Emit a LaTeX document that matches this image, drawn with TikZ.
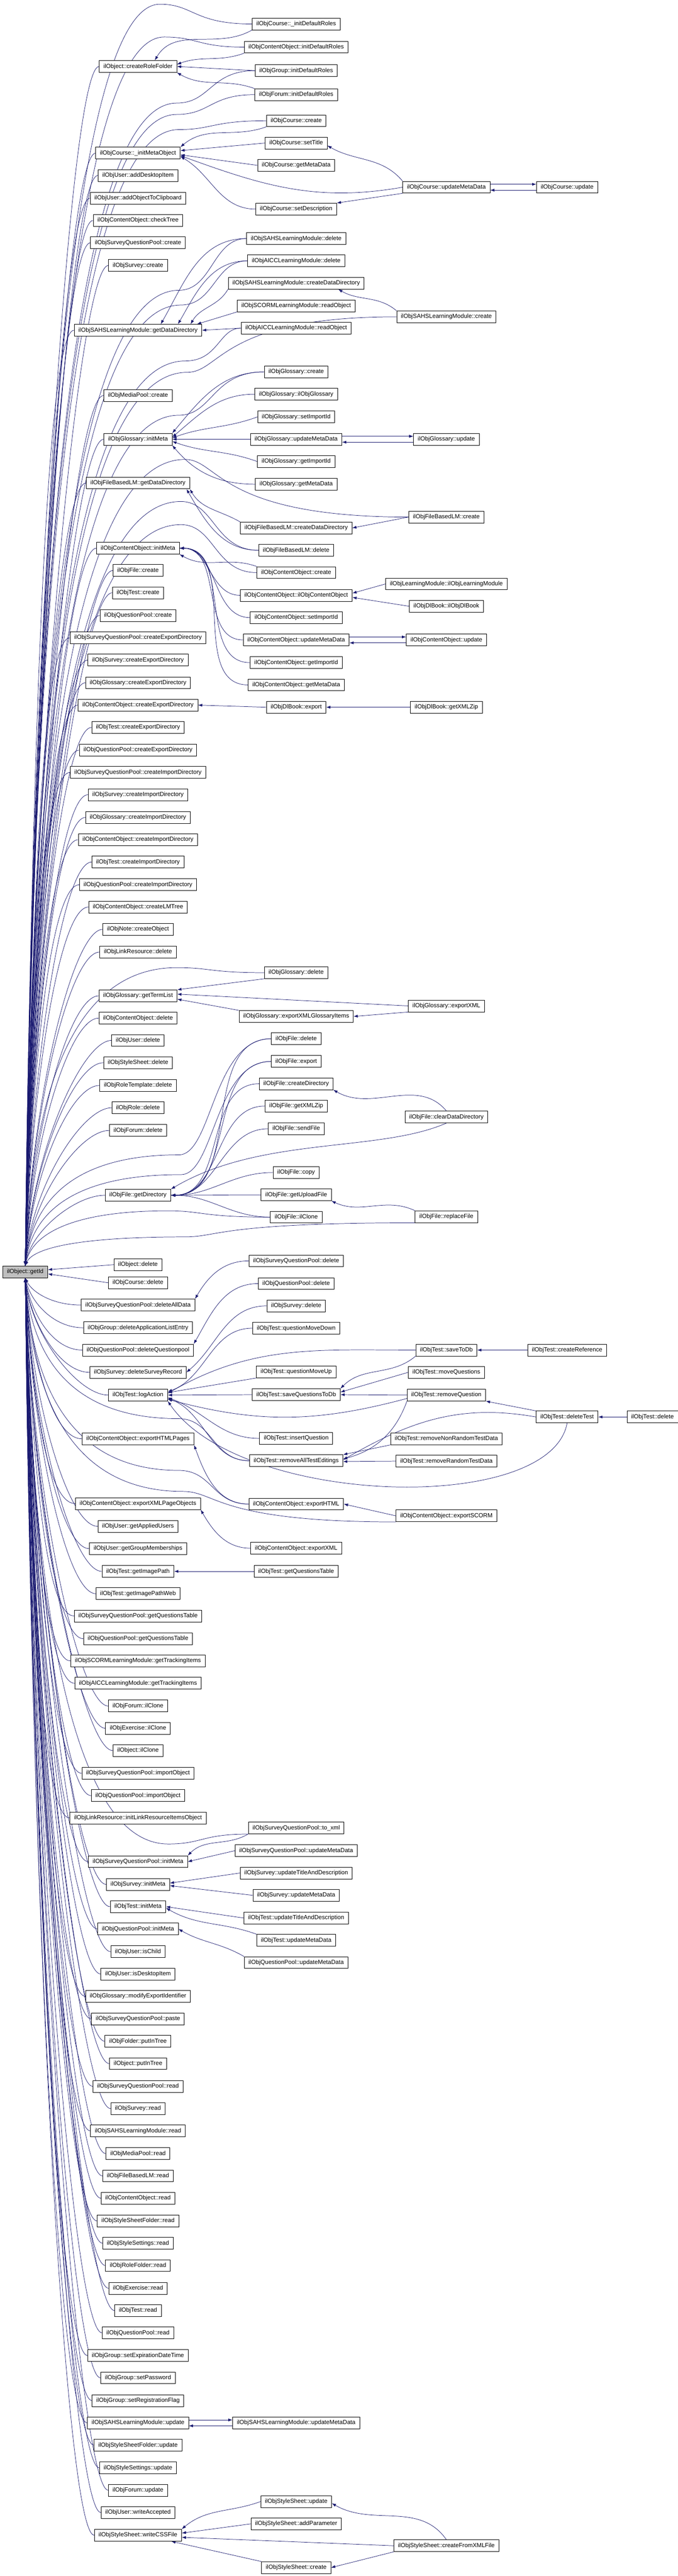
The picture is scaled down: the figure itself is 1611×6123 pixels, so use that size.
\documentclass[tikz,border=0pt]{standalone}
\usepackage{fontspec}
\setmainfont{Liberation Sans}
\usetikzlibrary{calc,backgrounds,arrows.meta}
\definecolor{callblue}{HTML}{191970}
\definecolor{idgrey}{HTML}{BFBFBF}
\newcommand{\upcall}[1]{\draw[call] let \p1=(#1.west), \p2=(getId.north) in (\p1) .. controls (\x1-70pt,\y1) and (\x2+15pt,{0.5*\y1+0.5*\y2}) .. (\p2);}
\newcommand{\downcall}[1]{\draw[call] let \p1=(#1.west), \p2=(getId.south) in (\p1) .. controls (\x1-70pt,\y1) and (\x2+15pt,{0.5*\y1+0.5*\y2}) .. (\p2);}
\newcommand{\upvia}[3]{\draw[call] let \p1=(#1), \p2=(getId.north) in (\p1) .. controls (#2pt,\y1) and (#2pt,-#3pt) .. (#2pt-80pt,-#3pt) .. controls (150pt,-#3pt) and (\x2+15pt,{0.5*\y2-0.5*#3pt}) .. (\p2);}
\newcommand{\downvia}[3]{\draw[call] let \p1=(#1), \p2=(getId.south) in (\p1) .. controls (#2pt,\y1) and (#2pt,-#3pt) .. (#2pt-80pt,-#3pt) .. controls (150pt,-#3pt) and (\x2+15pt,{0.5*\y2-0.5*#3pt}) .. (\p2);}

\begin{document}
\begin{tikzpicture}[x=1pt,y=-1pt,
  fn/.style={draw=black,fill=white,line width=1pt,minimum height=28pt,inner xsep=10pt,inner ysep=0pt,font=\fontsize{14.2}{16}\selectfont},
  call/.style={draw=callblue,line width=0.9pt,-{Latex[length=10pt,width=7pt]}}]
\useasboundingbox (0,0) rectangle (1611,6123);

\node[fn,fill=idgrey] (getId) at (60,3023) {ilObject::getId};

\node[fn] (crf) at (328,158) {ilObject::createRoleFolder};
\node[fn] (imo) at (328,364) {ilObjCourse::\_initMetaObject};
\node[fn] (adi) at (328,417) {ilObjUser::addDesktopItem};
\node[fn] (aoc) at (328,471) {ilObjUser::addObjectToClipboard};
\node[fn] (ctr) at (328,524) {ilObjContentObject::checkTree};
\node[fn] (sqpc) at (328,577) {ilObjSurveyQuestionPool::create};
\node[fn] (svc) at (328,631) {ilObjSurvey::create};
\node[fn] (sgdd) at (328,785) {ilObjSAHSLearningModule::getDataDirectory};
\node[fn] (mpc) at (328,940) {ilObjMediaPool::create};
\node[fn] (gim) at (328,1044) {ilObjGlossary::initMeta};
\node[fn] (fbgd) at (328,1148) {ilObjFileBasedLM::getDataDirectory};
\node[fn] (coim) at (328,1303) {ilObjContentObject::initMeta};
\node[fn] (flc) at (328,1356) {ilObjFile::create};
\node[fn] (tsc) at (328,1409) {ilObjTest::create};
\node[fn] (qpc) at (328,1463) {ilObjQuestionPool::create};
\node[fn] (sqped) at (328,1516) {ilObjSurveyQuestionPool::createExportDirectory};
\node[fn] (sved) at (328,1569) {ilObjSurvey::createExportDirectory};
\node[fn] (gled) at (328,1623) {ilObjGlossary::createExportDirectory};
\node[fn] (coed) at (328,1676) {ilObjContentObject::createExportDirectory};
\node[fn] (tsed) at (328,1729) {ilObjTest::createExportDirectory};
\node[fn] (qped) at (328,1783) {ilObjQuestionPool::createExportDirectory};
\node[fn] (sqpid) at (328,1836) {ilObjSurveyQuestionPool::createImportDirectory};
\node[fn] (svid) at (328,1889) {ilObjSurvey::createImportDirectory};
\node[fn] (glid) at (328,1943) {ilObjGlossary::createImportDirectory};
\node[fn] (coid) at (328,1996) {ilObjContentObject::createImportDirectory};
\node[fn] (tsid) at (328,2049) {ilObjTest::createImportDirectory};
\node[fn] (qpid) at (328,2103) {ilObjQuestionPool::createImportDirectory};
\node[fn] (clt) at (328,2156) {ilObjContentObject::createLMTree};
\node[fn] (nco) at (328,2209) {ilObjNote::createObject};
\node[fn] (lrd) at (328,2263) {ilObjLinkResource::delete};
\node[fn] (gtl) at (328,2367) {ilObjGlossary::getTermList};
\node[fn] (cod) at (328,2420) {ilObjContentObject::delete};
\node[fn] (usd) at (328,2473) {ilObjUser::delete};
\node[fn] (ssd) at (328,2526) {ilObjStyleSheet::delete};
\node[fn] (rtd) at (328,2580) {ilObjRoleTemplate::delete};
\node[fn] (rld) at (328,2633) {ilObjRole::delete};
\node[fn] (frd) at (328,2687) {ilObjForum::delete};
\node[fn] (fgd) at (328,2841) {ilObjFile::getDirectory};
\node[fn] (obd) at (328,3006) {ilObject::delete};
\node[fn] (crd) at (328,3049) {ilObjCourse::delete};
\node[fn] (sqpda) at (328,3102) {ilObjSurveyQuestionPool::deleteAllData};
\node[fn] (gdal) at (328,3156) {ilObjGroup::deleteApplicationListEntry};
\node[fn] (qpdq) at (328,3209) {ilObjQuestionPool::deleteQuestionpool};
\node[fn] (svdr) at (328,3262) {ilObjSurvey::deleteSurveyRecord};
\node[fn] (tla) at (328,3316) {ilObjTest::logAction};
\node[fn] (cohp) at (328,3420) {ilObjContentObject::exportHTMLPages};
\node[fn] (coxp) at (328,3574) {ilObjContentObject::exportXMLPageObjects};
\node[fn] (uau) at (328,3628) {ilObjUser::getAppliedUsers};
\node[fn] (ugm) at (328,3681) {ilObjUser::getGroupMemberships};
\node[fn] (tip) at (328,3735) {ilObjTest::getImagePath};
\node[fn] (tipw) at (328,3788) {ilObjTest::getImagePathWeb};
\node[fn] (sqpqt) at (328,3841) {ilObjSurveyQuestionPool::getQuestionsTable};
\node[fn] (qpqt) at (328,3895) {ilObjQuestionPool::getQuestionsTable};
\node[fn] (sti) at (328,3948) {ilObjSCORMLearningModule::getTrackingItems};
\node[fn] (ati) at (328,4001) {ilObjAICCLearningModule::getTrackingItems};
\node[fn] (foic) at (328,4055) {ilObjForum::ilClone};
\node[fn] (eic) at (328,4108) {ilObjExercise::ilClone};
\node[fn] (oic) at (328,4161) {ilObject::ilClone};
\node[fn] (sqpio) at (328,4215) {ilObjSurveyQuestionPool::importObject};
\node[fn] (qpio) at (328,4268) {ilObjQuestionPool::importObject};
\node[fn] (lri) at (328,4321) {ilObjLinkResource::initLinkResourceItemsObject};
\node[fn] (sqpim) at (328,4425) {ilObjSurveyQuestionPool::initMeta};
\node[fn] (svim) at (328,4479) {ilObjSurvey::initMeta};
\node[fn] (tim) at (328,4532) {ilObjTest::initMeta};
\node[fn] (qpim) at (328,4585) {ilObjQuestionPool::initMeta};
\node[fn] (uic) at (328,4639) {ilObjUser::isChild};
\node[fn] (udi) at (328,4692) {ilObjUser::isDesktopItem};
\node[fn] (gmei) at (328,4745) {ilObjGlossary::modifyExportIdentifier};
\node[fn] (sqpp) at (328,4799) {ilObjSurveyQuestionPool::paste};
\node[fn] (fpt) at (328,4852) {ilObjFolder::putInTree};
\node[fn] (opt) at (328,4905) {ilObject::putInTree};
\node[fn] (sqpr) at (328,4959) {ilObjSurveyQuestionPool::read};
\node[fn] (svr) at (328,5012) {ilObjSurvey::read};
\node[fn] (sahr) at (328,5065) {ilObjSAHSLearningModule::read};
\node[fn] (mpr) at (328,5119) {ilObjMediaPool::read};
\node[fn] (fbr) at (328,5172) {ilObjFileBasedLM::read};
\node[fn] (cor) at (328,5225) {ilObjContentObject::read};
\node[fn] (ssfr) at (328,5279) {ilObjStyleSheetFolder::read};
\node[fn] (stsr) at (328,5332) {ilObjStyleSettings::read};
\node[fn] (rfr) at (328,5385) {ilObjRoleFolder::read};
\node[fn] (exr) at (328,5439) {ilObjExercise::read};
\node[fn] (tsr) at (328,5492) {ilObjTest::read};
\node[fn] (qpr) at (328,5545) {ilObjQuestionPool::read};
\node[fn] (gsed) at (328,5599) {ilObjGroup::setExpirationDateTime};
\node[fn] (gsp) at (328,5652) {ilObjGroup::setPassword};
\node[fn] (gsrf) at (328,5706) {ilObjGroup::setRegistrationFlag};
\node[fn] (sahu) at (328,5759) {ilObjSAHSLearningModule::update};
\node[fn] (ssfu) at (328,5812) {ilObjStyleSheetFolder::update};
\node[fn] (stsu) at (328,5866) {ilObjStyleSettings::update};
\node[fn] (fru) at (328,5919) {ilObjForum::update};
\node[fn] (uwa) at (328,5972) {ilObjUser::writeAccepted};
\node[fn] (wcss) at (328,6026) {ilObjStyleSheet::writeCSSFile};

\node[fn] (cidr) at (704,57) {ilObjCourse::\_initDefaultRoles};
\node[fn] (coidr) at (704,112) {ilObjContentObject::initDefaultRoles};
\node[fn] (gidr) at (704,168) {ilObjGroup::initDefaultRoles};
\node[fn] (fidr) at (704,225) {ilObjForum::initDefaultRoles};
\node[fn] (crc) at (704,287) {ilObjCourse::create};
\node[fn] (cst) at (704,340) {ilObjCourse::setTitle};
\node[fn] (cgm) at (704,393) {ilObjCourse::getMetaData};
\node[fn] (csd) at (704,497) {ilObjCourse::setDescription};
\node[fn] (sahd) at (704,567) {ilObjSAHSLearningModule::delete};
\node[fn] (aid) at (704,620) {ilObjAICCLearningModule::delete};
\node[fn] (scdd) at (704,673) {ilObjSAHSLearningModule::createDataDirectory};
\node[fn] (sro) at (704,727) {ilObjSCORMLearningModule::readObject};
\node[fn] (aro) at (704,780) {ilObjAICCLearningModule::readObject};
\node[fn] (glc) at (704,884) {ilObjGlossary::create};
\node[fn] (glg) at (704,937) {ilObjGlossary::ilObjGlossary};
\node[fn] (gsi) at (704,991) {ilObjGlossary::setImportId};
\node[fn] (gum) at (704,1044) {ilObjGlossary::updateMetaData};
\node[fn] (ggi) at (704,1097) {ilObjGlossary::getImportId};
\node[fn] (ggm) at (704,1151) {ilObjGlossary::getMetaData};
\node[fn] (fbcd) at (704,1255) {ilObjFileBasedLM::createDataDirectory};
\node[fn] (fbd) at (704,1308) {ilObjFileBasedLM::delete};
\node[fn] (coc) at (704,1361) {ilObjContentObject::create};
\node[fn] (coco) at (704,1415) {ilObjContentObject::ilObjContentObject};
\node[fn] (cosi) at (704,1468) {ilObjContentObject::setImportId};
\node[fn] (coum) at (704,1521) {ilObjContentObject::updateMetaData};
\node[fn] (cogi) at (704,1575) {ilObjContentObject::getImportId};
\node[fn] (cogm) at (704,1628) {ilObjContentObject::getMetaData};
\node[fn] (dbe) at (704,1681) {ilObjDlBook::export};
\node[fn] (gld) at (704,2312) {ilObjGlossary::delete};
\node[fn] (gxgi) at (704,2416) {ilObjGlossary::exportXMLGlossaryItems};
\node[fn] (fd) at (704,2469) {ilObjFile::delete};
\node[fn] (fe) at (704,2523) {ilObjFile::export};
\node[fn] (fcd) at (704,2576) {ilObjFile::createDirectory};
\node[fn] (fxz) at (704,2629) {ilObjFile::getXMLZip};
\node[fn] (fsf) at (704,2683) {ilObjFile::sendFile};
\node[fn] (fcp) at (704,2787) {ilObjFile::copy};
\node[fn] (fgu) at (704,2840) {ilObjFile::getUploadFile};
\node[fn] (flic) at (704,2893) {ilObjFile::ilClone};
\node[fn] (sqpd) at (704,2997) {ilObjSurveyQuestionPool::delete};
\node[fn] (qpd) at (704,3051) {ilObjQuestionPool::delete};
\node[fn] (svd) at (704,3104) {ilObjSurvey::delete};
\node[fn] (tqmd) at (704,3157) {ilObjTest::questionMoveDown};
\node[fn] (tqmu) at (704,3261) {ilObjTest::questionMoveUp};
\node[fn] (tsq) at (704,3315) {ilObjTest::saveQuestionsToDb};
\node[fn] (tiq) at (704,3419) {ilObjTest::insertQuestion};
\node[fn] (trae) at (704,3472) {ilObjTest::removeAllTestEditings};
\node[fn] (coeh) at (704,3575) {ilObjContentObject::exportHTML};
\node[fn] (coex) at (704,3680) {ilObjContentObject::exportXML};
\node[fn] (tgqt) at (704,3735) {ilObjTest::getQuestionsTable};
\node[fn] (sqptx) at (704,4345) {ilObjSurveyQuestionPool::to\_xml};
\node[fn] (sqpum) at (704,4399) {ilObjSurveyQuestionPool::updateMetaData};
\node[fn] (svut) at (704,4452) {ilObjSurvey::updateTitleAndDescription};
\node[fn] (svum) at (704,4505) {ilObjSurvey::updateMetaData};
\node[fn] (tut) at (704,4559) {ilObjTest::updateTitleAndDescription};
\node[fn] (tum) at (704,4612) {ilObjTest::updateMetaData};
\node[fn] (qpum) at (704,4665) {ilObjQuestionPool::updateMetaData};
\node[fn] (sahum) at (704,5759) {ilObjSAHSLearningModule::updateMetaData};
\node[fn] (ssu) at (704,5946) {ilObjStyleSheet::update};
\node[fn] (ssap) at (704,5999) {ilObjStyleSheet::addParameter};
\node[fn] (ssc) at (704,6103) {ilObjStyleSheet::create};

\node[fn] (cum) at (1061,445) {ilObjCourse::updateMetaData};
\node[fn] (sahc) at (1061,753) {ilObjSAHSLearningModule::create};
\node[fn] (glu) at (1061,1044) {ilObjGlossary::update};
\node[fn] (fbc) at (1061,1229) {ilObjFileBasedLM::create};
\node[fn] (lmlm) at (1061,1388) {ilObjLearningModule::ilObjLearningModule};
\node[fn] (dbdb) at (1061,1441) {ilObjDlBook::ilObjDlBook};
\node[fn] (cou) at (1061,1521) {ilObjContentObject::update};
\node[fn] (dbxz) at (1061,1681) {ilObjDlBook::getXMLZip};
\node[fn] (gxml) at (1061,2391) {ilObjGlossary::exportXML};
\node[fn] (fcld) at (1061,2655) {ilObjFile::clearDataDirectory};
\node[fn] (frf) at (1061,2892) {ilObjFile::replaceFile};
\node[fn] (tstd) at (1061,3209) {ilObjTest::saveToDb};
\node[fn] (tmq) at (1061,3262) {ilObjTest::moveQuestions};
\node[fn] (trq) at (1061,3316) {ilObjTest::removeQuestion};
\node[fn] (trnr) at (1061,3420) {ilObjTest::removeNonRandomTestData};
\node[fn] (trr) at (1061,3473) {ilObjTest::removeRandomTestData};
\node[fn] (coes) at (1061,3603) {ilObjContentObject::exportSCORM};
\node[fn] (sscx) at (1061,6051) {ilObjStyleSheet::createFromXMLFile};

\node[fn] (cu) at (1348,445) {ilObjCourse::update};
\node[fn] (tcr) at (1348,3209) {ilObjTest::createReference};
\node[fn] (tdt) at (1348,3368) {ilObjTest::deleteTest};
\node[fn] (tdel) at (1551,3368) {ilObjTest::delete};

\begin{pgfonlayer}{background}
\fill[white] (0,0) rectangle (1611,6123);
\foreach \q in {crf,imo,adi,aoc,ctr,sqpc,svc,sgdd,mpc,gim,fbgd,coim,flc,tsc,qpc,sqped,sved,gled,coed,tsed,qped,sqpid,svid,glid,coid,tsid,qpid,clt,nco,lrd,gtl,cod,usd,ssd,rtd,rld,frd,fgd}
  {\upcall{\q}}
\foreach \q in {sqpda,gdal,qpdq,svdr,tla,cohp,coxp,uau,ugm,tip,tipw,sqpqt,qpqt,sti,ati,foic,eic,oic,sqpio,qpio,lri,sqpim,svim,tim,qpim,uic,udi,gmei,sqpp,fpt,opt,sqpr,svr,sahr,mpr,fbr,cor,ssfr,stsr,rfr,exr,tsr,qpr,gsed,gsp,gsrf,sahu,ssfu,stsu,fru,uwa,wcss}
  {\downcall{\q}}
\draw[call] (obd.west) -- ([yshift=5pt]getId.east);
\draw[call] (crd.west) -- ([yshift=-5pt]getId.east);

\upvia{cidr.west}{460}{10}
\upvia{coidr.west}{470}{88}
\upvia{gidr.west}{500}{245}
\upvia{fidr.west}{500}{272}
\upvia{crc.west}{505}{308}
\upvia{sahd.west}{505}{690}
\upvia{aid.west}{510}{725}
\upvia{aro.west}{520}{858}
\upvia{sahc.west}{525}{885}
\upvia{glc.west}{505}{987}
\upvia{fbc.west}{520}{1092}
\upvia{fbd.west}{510}{1192}
\upvia{coc.west}{510}{1247}
\upvia{gld.west}{500}{2300}
\upvia{fd.west}{505}{2745}
\upvia{fe.west}{510}{2792}
\upvia{flic.west}{480}{2878}
\upvia{frf.south west}{520}{2940}
\downvia{trae.west}{505}{3372}
\downvia{coeh.west}{505}{3495}
\downvia{coes.south west}{515}{3545}
\downvia{sqptx.south west}{480}{4383}

\draw[call] (cidr.south west) to[out=210,in=60] ([xshift=40pt]crf.north);
\draw[call] (coidr.south west) to[out=200,in=20] ([yshift=5pt]crf.east);
\draw[call] (gidr.west) -- (crf.east);
\draw[call] (fidr.north west) to[out=160,in=-30] (crf.south east);
\draw[call] (crc.south west) to[out=200,in=40] (imo.north east);
\draw[call] (cst.west) -- ([yshift=6pt]imo.east);
\draw[call] (cgm.west) -- ([yshift=-4pt]imo.east);
\draw[call] (csd.west) to[out=180,in=-30] ([yshift=-8pt]imo.east);
\draw[call] (cum.west) to[out=190,in=-20] ([yshift=-6pt]imo.east);
\draw[call] (cum.north west) to[out=130,in=-30] ([yshift=-6pt]cst.east);
\draw[call] (cum.south west) -- (csd.north east);
\draw[call] ([yshift=7pt]cum.east) -- ([yshift=7pt]cu.west);
\draw[call] ([yshift=-7pt]cu.west) -- ([yshift=-7pt]cum.east);

\draw[call] (sahd.west) to[out=180,in=60] ([xshift=54pt]sgdd.north);
\draw[call] (aid.west) to[out=180,in=60] ([xshift=95pt]sgdd.north);
\draw[call] (scdd.south west) to[out=240,in=60] ([xshift=125pt]sgdd.north);
\draw[call] (sro.south west) -- ([xshift=140pt]sgdd.north);
\draw[call] (aro.west) -- (sgdd.east);
\draw[call] (sahc.north west) to[out=140,in=-30] ([xshift=100pt]scdd.south);

\draw[call] (glc.west) to[out=180,in=50] (gim.north east);
\draw[call] (glg.west) to[out=180,in=40] ([yshift=5pt]gim.east);
\draw[call] (gsi.west) to[out=200,in=20] ([yshift=3pt]gim.east);
\draw[call] (gum.west) -- (gim.east);
\draw[call] (ggi.west) to[out=160,in=-20] ([yshift=-5pt]gim.east);
\draw[call] (ggm.west) to[out=180,in=-50] (gim.south east);
\draw[call] ([yshift=7pt]gum.east) -- ([yshift=7pt]glu.west);
\draw[call] ([yshift=-7pt]glu.west) -- ([yshift=-7pt]gum.east);

\draw[call] (fbcd.north west) to[out=150,in=-60] (fbgd.south east);
\draw[call] (fbd.west) to[out=180,in=-60] ([xshift=-8pt]fbgd.south east);
\draw[call] (fbc.west) -- (fbcd.east);

\draw[call] (coc.north west) to[out=160,in=-30] (coim.south east);
\foreach \s in {coco,cosi,coum,cogi,cogm}
  {\draw[call] (\s.west) to[out=180,in=0] (coim.east);}
\draw[call] (lmlm.west) -- ([yshift=5pt]coco.east);
\draw[call] (dbdb.west) -- ([yshift=-5pt]coco.east);
\draw[call] ([yshift=7pt]coum.east) -- ([yshift=7pt]cou.west);
\draw[call] ([yshift=-7pt]cou.west) -- ([yshift=-7pt]coum.east);
\draw[call] (dbe.west) -- (coed.east);
\draw[call] (dbxz.west) -- (dbe.east);

\draw[call] (gld.south west) -- (gtl.north east);
\draw[call] (gxml.west) -- ([yshift=4pt]gtl.east);
\draw[call] (gxgi.north west) -- ([yshift=-8pt]gtl.east);
\draw[call] (gxml.south west) -- (gxgi.east);

\foreach \s in {fd,fe,fcd,fxz,fsf,fcp,fgu,flic}
  {\draw[call] (\s.west) to[out=180,in=0] (fgd.east);}
\draw[call] (fcld.south) .. controls (900,2740) and (620,2700) .. (fgd.north east);
\draw[call] (fcld.north) to[out=130,in=-30] (fcd.south east);
\draw[call] (frf.north west) to[out=155,in=-25] (fgu.south east);

\draw[call] (sqpd.west) to[out=180,in=60] (sqpda.north east);
\draw[call] (qpd.west) to[out=180,in=60] (qpdq.north east);
\draw[call] (svd.west) to[out=180,in=40] (svdr.east);

\draw[call] (tqmd.west) to[out=180,in=20] ([yshift=8pt]tla.east);
\draw[call] (tqmu.south west) -- ([yshift=6pt]tla.east);
\draw[call] (tsq.west) -- (tla.east);
\draw[call] (tiq.west) to[out=180,in=-20] ([yshift=-6pt]tla.east);
\draw[call] (trae.west) to[out=180,in=-20] ([yshift=-8pt]tla.east);
\draw[call] (tstd.west) to[out=180,in=30] ([yshift=4pt]tla.east);
\draw[call] (tstd.south west) to[out=220,in=45] (tsq.north east);
\draw[call] (tcr.west) -- (tstd.east);
\draw[call] (tmq.west) -- ([yshift=6pt]tsq.east);
\draw[call] (trq.west) -- (tsq.east);
\draw[call] ([yshift=-8pt]trq.west) to[out=195,in=-15] ([yshift=-10pt]tla.east);
\draw[call] (trq.south west) to[out=250,in=15] ([yshift=4pt]trae.east);
\draw[call] (tdt.north west) -- (trq.south east);
\draw[call] (tdt.west) to[out=170,in=30] ([yshift=2pt]trae.east);
\draw[call] (tdt.south) .. controls +(-40,220) and +(170,250) .. (tla.south east);
\draw[call] (tdel.west) -- (tdt.east);
\draw[call] (trnr.south west) -- (trae.north east);
\draw[call] (trr.west) -- ([yshift=-2pt]trae.east);

\draw[call] (coeh.west) to[out=180,in=-70] (cohp.south east);
\draw[call] (coes.west) -- (coeh.east);
\draw[call] (coex.west) to[out=180,in=-60] (coxp.south east);
\draw[call] (tgqt.west) -- (tip.east);

\draw[call] (sqptx.south west) to[out=210,in=45] (sqpim.north east);
\draw[call] (sqpum.west) -- (sqpim.east);
\draw[call] (svut.west) -- ([yshift=3pt]svim.east);
\draw[call] (svum.west) -- ([yshift=-3pt]svim.east);
\draw[call] (tut.west) -- (tim.east);
\draw[call] (tum.north west) to[out=160,in=-30] ([yshift=-3pt]tim.east);
\draw[call] (qpum.north west) to[out=150,in=-30] (qpim.east);

\draw[call] ([yshift=7pt]sahu.east) -- ([yshift=7pt]sahum.west);
\draw[call] ([yshift=-7pt]sahum.west) -- ([yshift=-7pt]sahu.east);
\draw[call] (ssu.west) to[out=200,in=40] (wcss.north east);
\draw[call] (ssap.west) -- ([yshift=5pt]wcss.east);
\draw[call] (sscx.west) -- ([yshift=-5pt]wcss.east);
\draw[call] (ssc.north west) -- ([xshift=-25pt]wcss.south east);
\draw[call] (sscx.north) to[out=125,in=-30] ([yshift=-4pt]ssu.east);
\draw[call] (sscx.south west) -- (ssc.east);
\end{pgfonlayer}
\end{tikzpicture}
\end{document}
